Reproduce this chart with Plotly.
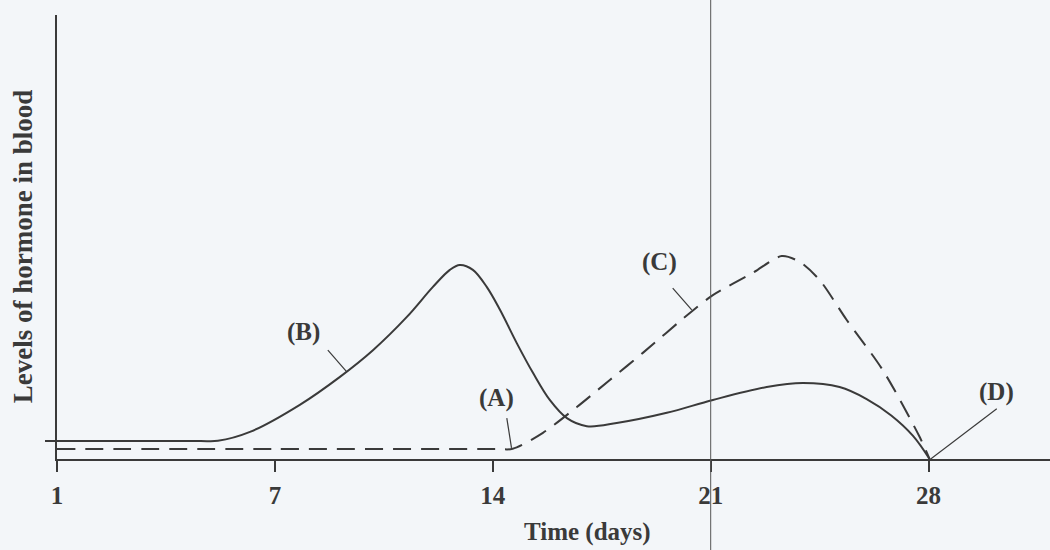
import plotly.graph_objects as go

# Axis positions: ticks evenly spaced, labelled by day
tick_pos = [0, 7, 14, 21, 28]
tick_labels = ["1", "7", "14", "21", "28"]

# Curve B (solid)
b_x = [0, 2.5, 4.6, 5.17, 6.2, 7.8, 9.09, 10.15, 11.24, 12.07, 12.62, 12.94, 13.36, 13.81,
       14.23, 14.77, 15.29, 15.83, 16.38, 17.02, 17.98, 19.59, 21.07, 22.8, 23.96, 25.14,
       26.01, 26.8, 27.5, 28.03]
b_y = [4.05, 4.05, 4.05, 4.1, 6.1, 12.2, 18.5, 24.5, 32.0, 38.7, 42.6, 43.7, 42.6, 38.7,
       33.6, 26.1, 19.4, 13.3, 9.2, 7.4, 8.1, 10.4, 13.3, 16.2, 17.1, 16.2,
       13.5, 9.8, 5.2, 0.0]

# Curve A/C (dashed)
c_x = [0, 7.0, 14.1, 14.64, 15.61, 16.7, 17.76, 18.82, 20.33, 21.07, 22.35, 23.28,
       23.86, 24.5, 25.37, 26.53, 27.71, 28.03]
c_y = [2.25, 2.25, 2.25, 2.3, 5.9, 11.7, 17.8, 23.9, 32.9, 36.9, 41.9, 45.7,
       44.4, 40.3, 31.3, 20.0, 5.0, 0.0]

# Labels and leader lines
lab_text = ["(B)", "(A)", "(C)", "(D)"]
lab_x = [7.93, 14.13, 19.36, 30.19]
lab_y = [28.6, 13.7, 44.4, 15.0]
lead_x0 = [8.7, 14.45, 19.78, 30.19]
lead_y0 = [24.5, 9.2, 38.5, 11.3]
lead_x1 = [9.31, 14.6, 20.39, 28.03]
lead_y1 = [19.6, 2.5, 33.6, -0.2]

INK = "#3a3a3a"
FONT = "Liberation Serif"
FS = 25

fig = go.Figure()
fig.add_trace(go.Scatter(x=b_x, y=b_y, mode="lines",
                         line=dict(color=INK, width=2, shape="spline", smoothing=1.0),
                         hoverinfo="skip", showlegend=False))
fig.add_trace(go.Scatter(x=c_x, y=c_y, mode="lines",
                         line=dict(color=INK, width=2, dash="18px,10px", shape="spline", smoothing=0.8),
                         hoverinfo="skip", showlegend=False))

shapes = []
for x0, y0, x1, y1 in zip(lead_x0, lead_y0, lead_x1, lead_y1):
    shapes.append(dict(type="line", xref="x", yref="y", x0=x0, y0=y0, x1=x1, y1=y1,
                       line=dict(color=INK, width=1.2)))
# vertical day-21 line across whole picture
shapes.append(dict(type="line", xref="x", yref="paper", x0=21, x1=21, y0=-0.21, y1=1.04,
                   line=dict(color="#555555", width=1)))

annotations = []
for t, x, y in zip(lab_text, lab_x, lab_y):
    annotations.append(dict(text="<b>" + t + "</b>", x=x, y=y, xref="x", yref="y",
                            showarrow=False, font=dict(family=FONT, size=FS, color=INK)))
annotations.append(dict(text="<b>Levels of hormone in blood</b>", xref="paper", yref="paper",
                        x=-0.051, y=0.48, textangle=-90, showarrow=False,
                        font=dict(family=FONT, size=27, color=INK)))
annotations.append(dict(text="<b>Time (days)</b>", xref="paper", yref="paper",
                        x=0.534, y=-0.201, showarrow=False,
                        font=dict(family=FONT, size=FS, color=INK)))

fig.update_layout(
    width=1050, height=550,
    margin=dict(l=57, r=0, t=15, b=91),
    paper_bgcolor="#f3f6f9", plot_bgcolor="#f3f6f9",
    shapes=shapes, annotations=annotations,
    xaxis=dict(range=[0, 31.9], tickvals=tick_pos, ticktext=tick_labels,
               showgrid=False, zeroline=False, showline=True, linecolor=INK, linewidth=2,
               ticks="outside", ticklen=11, tickcolor=INK, tickwidth=1.5,
               ticklabelstandoff=2,
               tickfont=dict(family=FONT, size=FS, color=INK, weight="bold")),
    yaxis=dict(range=[0, 100], tickvals=[4.05], showticklabels=False,
               showgrid=False, zeroline=False, showline=True, linecolor=INK, linewidth=2,
               ticks="outside", ticklen=10, tickcolor=INK, tickwidth=1.5),
)

fig.write_html("out.html", config={"displayModeBar": False},
               post_script="document.body.style.margin='0';")
